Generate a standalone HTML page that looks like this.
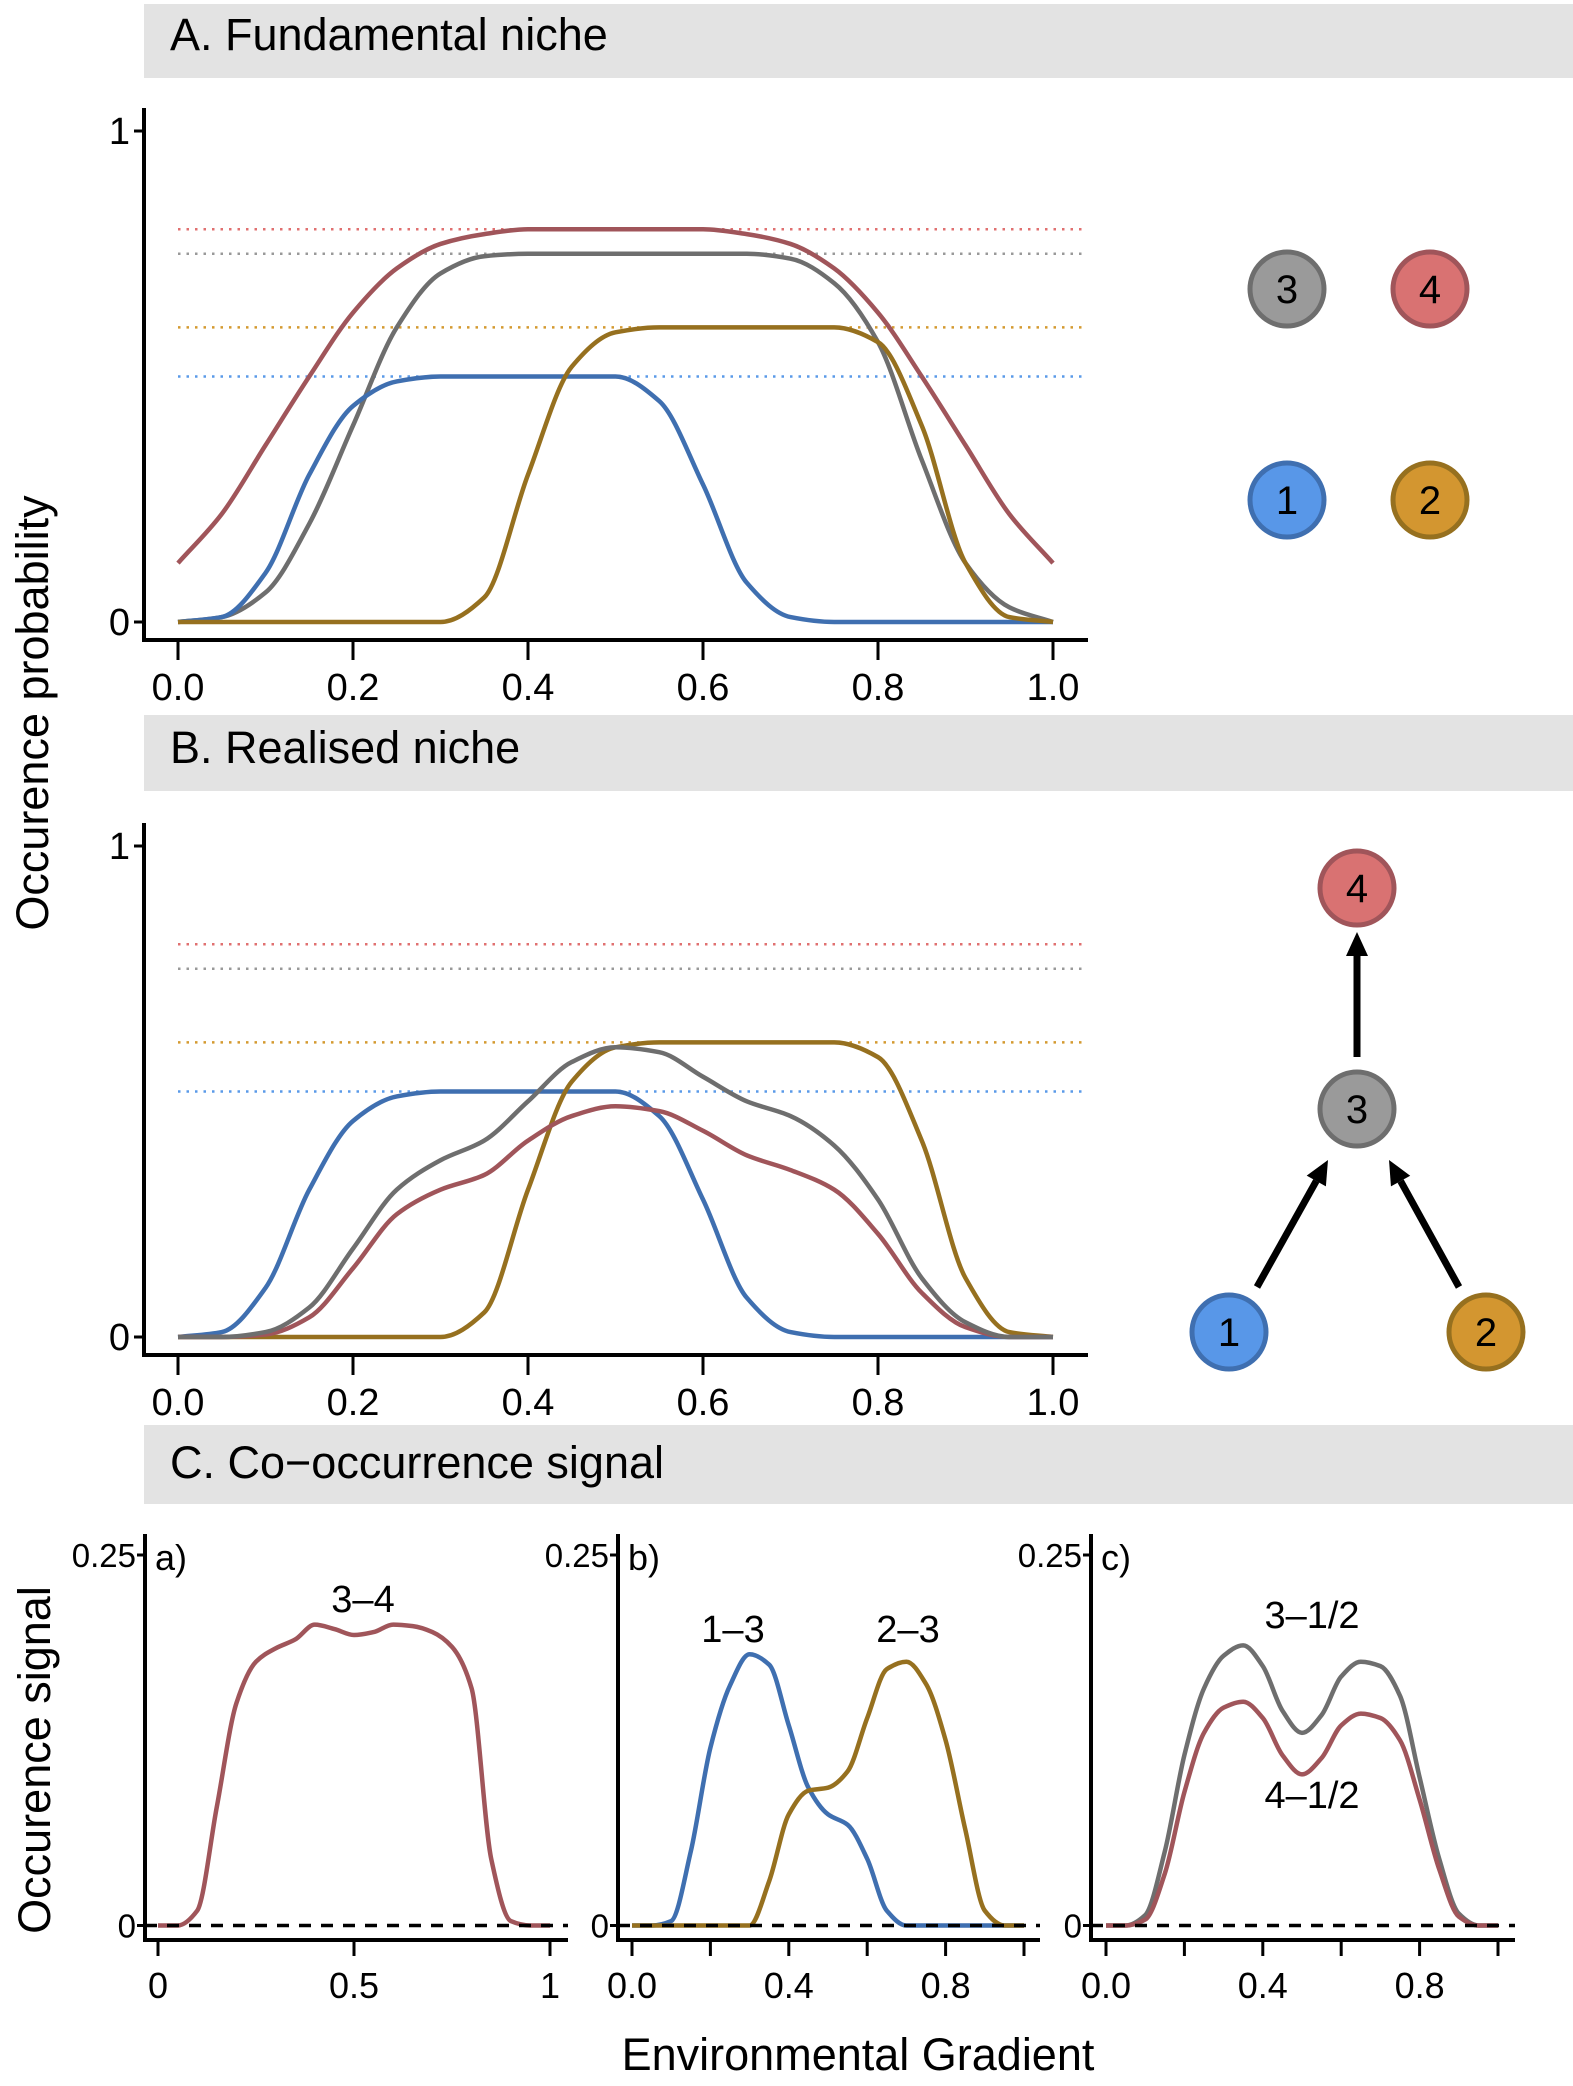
<!DOCTYPE html>
<html><head><meta charset="utf-8"><style>
body{margin:0;background:#fff}
svg{display:block;font-family:"Liberation Sans",sans-serif}
</style></head><body>
<svg id="fig" width="1573" height="2086" viewBox="0 0 1573 2086" xmlns="http://www.w3.org/2000/svg">
<rect x="144" y="4" width="1429" height="74" fill="#e3e3e3"/>
<text x="170" y="50" font-size="45">A. Fundamental niche</text>
<rect x="144" y="715" width="1429" height="76" fill="#e3e3e3"/>
<text x="170" y="763" font-size="45">B. Realised niche</text>
<rect x="144" y="1425" width="1429" height="79" fill="#e3e3e3"/>
<text x="170" y="1478" font-size="45">C. Co−occurrence signal</text>
<text transform="translate(48,713) rotate(-90)" text-anchor="middle" font-size="45">Occurence probability</text>
<text transform="translate(50,1760) rotate(-90)" text-anchor="middle" font-size="45">Occurence signal</text>
<text x="858" y="2070" text-anchor="middle" font-size="45">Environmental Gradient</text>
<g id="plots"></g>
<g id="nodes"></g>
</svg>
<script>
const xs = [0,0.05,0.1,0.15,0.2,0.25,0.3,0.35,0.4,0.45,0.5,0.55,0.6,0.65,0.7,0.75,0.8,0.85,0.9,0.95,1];
const aRed  = [0.12,0.22,0.36,0.5,0.63,0.72,0.77,0.79,0.8,0.8,0.8,0.8,0.8,0.79,0.77,0.72,0.63,0.5,0.36,0.22,0.12];
const aGray = [0,0.01,0.06,0.2,0.4,0.6,0.71,0.745,0.75,0.75,0.75,0.75,0.75,0.75,0.74,0.69,0.57,0.33,0.12,0.03,0];
const aBlue = [0,0.01,0.1,0.3,0.44,0.49,0.5,0.5,0.5,0.5,0.5,0.45,0.28,0.08,0.01,0,0,0,0,0,0];
const aGold = [0,0,0,0,0,0,0,0.05,0.3,0.52,0.59,0.6,0.6,0.6,0.6,0.6,0.57,0.4,0.12,0.01,0];
const bGray = [0,0,0.01,0.06,0.18,0.3,0.36,0.4,0.48,0.56,0.59,0.58,0.53,0.48,0.45,0.39,0.28,0.12,0.03,0,0];
const bRed  = [0,0,0.005,0.04,0.14,0.25,0.3,0.33,0.4,0.45,0.47,0.46,0.42,0.37,0.34,0.3,0.21,0.09,0.02,0,0];
const refLevels = [0.8,0.75,0.6,0.5];
const cA   = [0,0,0.01,0.08,0.15,0.178,0.187,0.193,0.203,0.2,0.196,0.198,0.203,0.202,0.198,0.188,0.16,0.045,0.003,0,0];
const cB13 = [0,0,0.003,0.05,0.12,0.162,0.183,0.176,0.135,0.093,0.075,0.068,0.045,0.01,0,0,0,0,0,0,0];
const cB23 = [0,0,0,0,0,0,0,0.03,0.075,0.091,0.093,0.104,0.14,0.173,0.178,0.163,0.125,0.065,0.01,0,0];
const cCGray = [0,0,0.007,0.05,0.115,0.16,0.182,0.189,0.175,0.145,0.13,0.142,0.168,0.178,0.175,0.155,0.1,0.045,0.008,0,0];
const cCRed  = [0,0,0.004,0.035,0.09,0.13,0.147,0.151,0.14,0.115,0.102,0.113,0.135,0.143,0.14,0.125,0.085,0.038,0.006,0,0];
const tickAB = ["0.0","0.2","0.4","0.6","0.8","1.0"];
const tickCa = ["0","0.5","1"];
const tickCbc = ["0.0","0.4","0.8"];

const NS="http://www.w3.org/2000/svg";
const plots=document.getElementById('plots');
function mk(tag,attrs,parent){const e=document.createElementNS(NS,tag);for(const k in attrs)e.setAttribute(k,attrs[k]);(parent||plots).appendChild(e);return e;}
// monotone cubic (Fritsch-Carlson) to avoid overshoot
function pathFrom(X,Y,sx,sy){
  const n=X.length, px=X.map(sx), py=Y.map(sy);
  const d=[],m=new Array(n);
  for(let i=0;i<n-1;i++) d.push((py[i+1]-py[i])/(px[i+1]-px[i]));
  m[0]=d[0]; m[n-1]=d[n-2];
  for(let i=1;i<n-1;i++){
    if(d[i-1]*d[i]<=0) m[i]=0;
    else { m[i]=2/(1/d[i-1]+1/d[i]); }
  }
  let s=`M${px[0]},${py[0]}`;
  for(let i=0;i<n-1;i++){
    const h=px[i+1]-px[i];
    s+=`C${px[i]+h/3},${py[i]+m[i]*h/3} ${px[i+1]-h/3},${py[i+1]-m[i+1]*h/3} ${px[i+1]},${py[i+1]}`;
  }
  return s;
}
const COL={red:'#a0555a',gray:'#6e6e6e',blue:'#3f6fb0',gold:'#96701f'};
const DOT=['#e07070','#999999','#d49a30','#5a9ae8'];

function panelAB(off,series,label){
  const sx=v=>178+875*v, sy=v=>622+off-491*v;
  const g=mk('g',{});
  
  
  refLevels.forEach((lv,i)=>{
    const l=mk('line',{x1:178,x2:1085,y1:sy(lv),y2:sy(lv),stroke:DOT[i],'stroke-width':2.5,'stroke-dasharray':'2.5 6'},g);
    
    
  });
  series.forEach(s=>{
    const p=mk('path',{d:pathFrom(xs,s[0],sx,sy),fill:'none',stroke:s[1],'stroke-width':4.5},g);
    
    
  });
  const ya=mk('line',{x1:144,x2:144,y1:108+off,y2:641+off,stroke:'#000','stroke-width':4},g);
  
  
  const xa=mk('line',{x1:142,x2:1088,y1:640+off,y2:640+off,stroke:'#000','stroke-width':4},g);
  
  
  [[0,'0'],[1,'1']].forEach(t=>{
    mk('line',{x1:134,x2:144,y1:sy(t[0]),y2:sy(t[0]),stroke:'#000','stroke-width':3},g);
    const tx=mk('text',{x:130,y:sy(t[0])+13,'text-anchor':'end','font-size':38},g);
    tx.textContent=t[1];
    
    
  });
  tickAB.forEach(t=>{
    const x=sx(parseFloat(t));
    mk('line',{x1:x,x2:x,y1:640+off,y2:660+off,stroke:'#000','stroke-width':3},g);
    const tx=mk('text',{x:x,y:700+off,'text-anchor':'middle','font-size':38},g);
    tx.textContent=t;
    
    
  });
}
panelAB(0,[[aRed,COL.red,'curve-species-4'],[aGray,COL.gray,'curve-species-3'],[aBlue,COL.blue,'curve-species-1'],[aGold,COL.gold,'curve-species-2']],'panel-fundamental');
panelAB(715,[[aBlue,COL.blue,'curve-species-1'],[aGold,COL.gold,'curve-species-2'],[bRed,COL.red,'curve-species-4'],[bGray,COL.gray,'curve-species-3']],'panel-realised');

function panelC(ax,x0,xend,series,ticks,tag,labels,name){
  const sx=v=>x0+392*v, sy=v=>1925.5-1482*v;
  const g=mk('g',{});
  
  
  series.forEach(s=>{
    const p=mk('path',{d:pathFrom(xs,s[0],sx,sy),fill:'none',stroke:s[1],'stroke-width':4.5},g);
    
    
  });
  const z=mk('line',{x1:ax,x2:xend,y1:sy(0),y2:sy(0),stroke:'#000','stroke-width':3.5,'stroke-dasharray':'12 10'},g);
  
  
  const ya=mk('line',{x1:ax,x2:ax,y1:1534,y2:1942,stroke:'#000','stroke-width':4},g);
  
  
  const xa=mk('line',{x1:ax-2,x2:xend,y1:1940,y2:1940,stroke:'#000','stroke-width':4},g);
  
  
  [[0,'0'],[0.25,'0.25']].forEach(t=>{
    mk('line',{x1:ax-8,x2:ax,y1:sy(t[0]),y2:sy(t[0]),stroke:'#000','stroke-width':3},g);
    const tx=mk('text',{x:ax-9,y:sy(t[0])+12,'text-anchor':'end','font-size':33},g);
    tx.textContent=t[1];
    
    
  });
  const step = ticks.length===3 && ticks[1]==='0.5' ? 0.5 : 0.2;
  for(let v=0;v<=1.0001;v+=step){
    mk('line',{x1:sx(v),x2:sx(v),y1:1940,y2:1956,stroke:'#000','stroke-width':3},g);
  }
  ticks.forEach(t=>{
    const tx=mk('text',{x:sx(parseFloat(t)),y:1998,'text-anchor':'middle','font-size':36},g);
    tx.textContent=t;
    
    
  });
  const tg=mk('text',{x:ax+10,y:1570,'font-size':36},g);
  tg.textContent=tag;
  
  
  labels.forEach(l=>{
    const tx=mk('text',{x:l[0],y:l[1],'text-anchor':'middle','font-size':38},g);
    tx.textContent=l[2];
    
    
  });
}
panelC(145,158,568,[[cA,COL.red,'curve-3-4']],tickCa,'a)',[[363,1612,'3–4']],'panel-c-a');
panelC(618,632,1040,[[cB13,COL.blue,'curve-1-3'],[cB23,COL.gold,'curve-2-3']],tickCbc,'b)',[[733,1642,'1–3'],[908,1642,'2–3']],'panel-c-b');
panelC(1091,1106,1515,[[cCGray,COL.gray,'curve-3-1-2'],[cCRed,COL.red,'curve-4-1-2']],tickCbc,'c)',[[1312,1628,'3–1/2'],[1312,1808,'4–1/2']],'panel-c-c');

const nodes=document.getElementById('nodes');
const FILL={1:['#5897e8','#3f6fb0'],2:['#d39630','#96701f'],3:['#9a9a9a','#6e6e6e'],4:['#d97272','#a0555a']};
function node(cx,cy,n){
  const g=mk('g',{},nodes);
  
  
  mk('circle',{cx:cx,cy:cy,r:37,fill:FILL[n][0],stroke:FILL[n][1],'stroke-width':5},g);
  const t=mk('text',{x:cx,y:cy+14,'text-anchor':'middle','font-size':40},g);
  t.textContent=n;
}
node(1287,289,3);node(1430,289,4);node(1287,500,1);node(1430,500,2);
node(1357,888,4);node(1357,1109,3);node(1229,1332,1);node(1486,1332,2);
function arrow(x1,y1,x2,y2){
  const g=mk('g',{},nodes);
  
  
  const a=Math.atan2(y2-y1,x2-x1),L=24,W=11;
  const bx=x2-L*Math.cos(a),by=y2-L*Math.sin(a);
  mk('line',{x1:x1,y1:y1,x2:bx,y2:by,stroke:'#000','stroke-width':7},g);
  const px=-Math.sin(a)*W,py=Math.cos(a)*W;
  mk('polygon',{points:`${x2},${y2} ${bx+px},${by+py} ${bx-px},${by-py}`,fill:'#000'},g);
}
arrow(1357,1057,1357,932);
arrow(1257,1287,1328,1160);
arrow(1459,1287,1389,1160);
</script>
</body></html>
